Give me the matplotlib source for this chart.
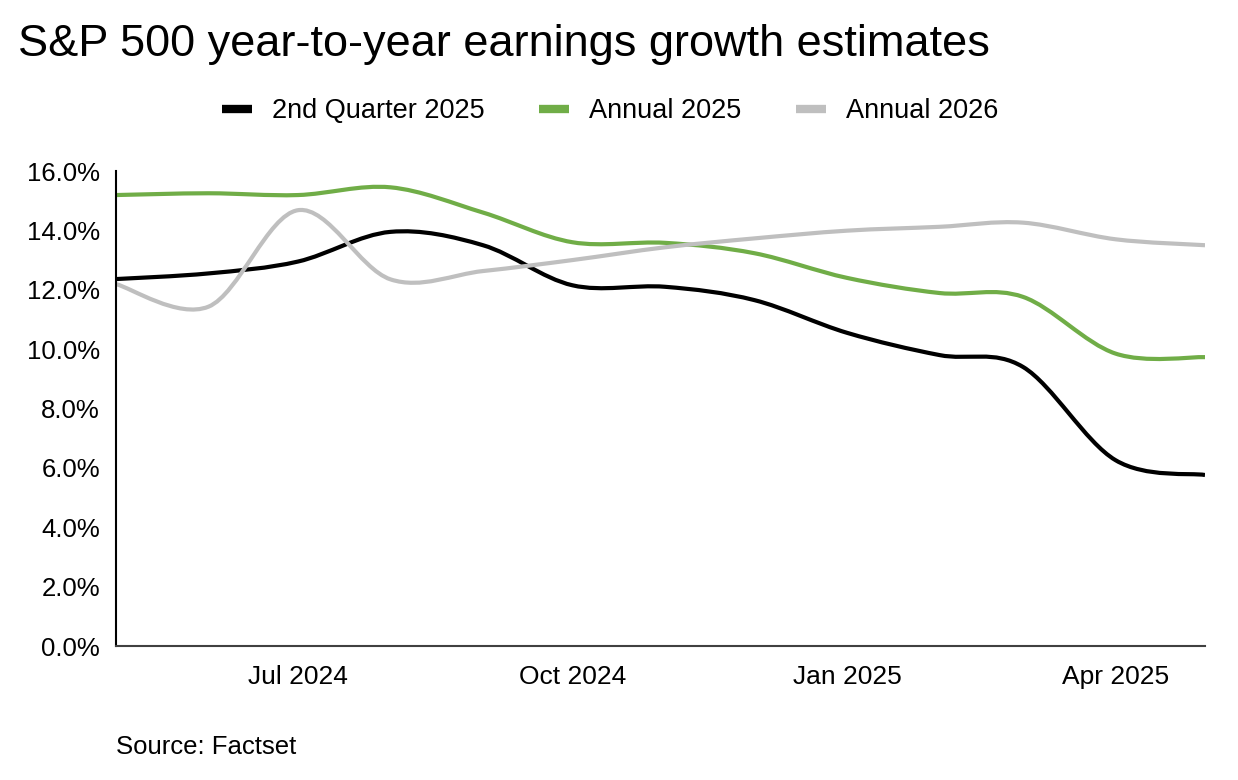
import datetime as dt
import numpy as np
import matplotlib
matplotlib.use("Agg")
import matplotlib.pyplot as plt
import matplotlib.dates as mdates
from matplotlib.path import Path
from matplotlib.patches import PathPatch
from matplotlib.lines import Line2D
from matplotlib.ticker import FuncFormatter

plt.rcParams['font.family'] = ['Liberation Sans', 'DejaVu Sans']

# monthly readings, May 2024 .. May 2025
months = [dt.date(2024, 5, 1), dt.date(2024, 6, 1), dt.date(2024, 7, 1), dt.date(2024, 8, 1),
          dt.date(2024, 9, 1), dt.date(2024, 10, 1), dt.date(2024, 11, 1), dt.date(2024, 12, 1),
          dt.date(2025, 1, 1), dt.date(2025, 2, 1), dt.date(2025, 3, 1), dt.date(2025, 4, 1),
          dt.date(2025, 5, 1)]
q2_2025 = [12.36, 12.55, 12.95, 13.95, 13.5, 12.15, 12.1, 11.65, 10.55, 9.8, 9.4, 6.26, 5.76]
annual_2025 = [15.19, 15.25, 15.19, 15.45, 14.6, 13.6, 13.58, 13.23, 12.4, 11.89, 11.76, 9.85, 9.73]
annual_2026 = [12.19, 11.43, 14.68, 12.35, 12.63, 13.0, 13.43, 13.73, 13.99, 14.12, 14.26, 13.7, 13.5]

series = [
    ("2nd Quarter 2025", q2_2025, "#000000"),
    ("Annual 2025", annual_2025, "#70AD47"),
    ("Annual 2026", annual_2026, "#BFBFBF"),
]

yticks = [0, 2, 4, 6, 8, 10, 12, 14, 16]
xticks = [dt.date(2024, 7, 1), dt.date(2024, 10, 1), dt.date(2025, 1, 1), dt.date(2025, 4, 1)]


def smooth_path(xs, ys):
  # smoothed line drawn as bezier segments through the data points
  pts = np.column_stack([xs, ys])
  n = len(pts)
  verts = [pts[0]]
  codes = [Path.MOVETO]
  for i in range(n - 1):
    p0 = pts[max(i - 1, 0)]
    p1 = pts[i]
    p2 = pts[i + 1]
    p3 = pts[min(i + 2, n - 1)]
    c1 = p1 + (p2 - p0) / 6.0
    c2 = p2 - (p3 - p1) / 6.0
    verts += [c1, c2, p2]
    codes += [Path.CURVE4] * 3
  return Path(verts, codes)


fig = plt.figure(figsize=(12.38, 7.8), dpi=100)
ax = fig.add_axes([116 / 1238, 1 - 646 / 780, (1205 - 116) / 1238, (646 - 171) / 780])

xnum = mdates.date2num(months)
handles = []
for name, vals, col in series:
  ax.add_patch(PathPatch(smooth_path(xnum, vals), fill=False, edgecolor=col, lw=3,
                         capstyle='butt', joinstyle='round'))
  handles.append(Line2D([], [], color=col, lw=6, solid_capstyle='butt', label=name))

ax.set_xlim(months[0], months[-1])
ax.set_ylim(0, 16)
ax.set_yticks(yticks)
ax.yaxis.set_major_formatter(FuncFormatter(lambda v, p: "%.1f%%" % v))
ax.set_xticks(xticks)
ax.xaxis.set_major_formatter(mdates.DateFormatter("%b %Y"))
ax.tick_params(length=0, colors='#000000')
ax.tick_params(axis='x', pad=13.5, labelsize=19)
ax.tick_params(axis='y', pad=11.5, labelsize=18.5)
for s in ['top', 'right']:
  ax.spines[s].set_visible(False)
ax.spines['left'].set_color('#000000')
ax.spines['bottom'].set_color('#404040')
ax.spines['left'].set_linewidth(1.5)
ax.spines['bottom'].set_linewidth(1.5)

fig.text(18 / 1238, 1 - 56 / 780, "S&P 500 year-to-year earnings growth estimates",
         fontsize=32.5, va='baseline', ha='left')
fig.legend(handles=handles, loc='center', bbox_to_anchor=(0.493, 1 - 111 / 780), ncol=3,
           frameon=False, fontsize=19.5, handlelength=1.1, columnspacing=2.0, handletextpad=0.75)
fig.text(116 / 1238, 1 - 747 / 780, "Source: Factset", fontsize=18.5, va='center', ha='left')

fig.savefig("out.png", dpi=100)
